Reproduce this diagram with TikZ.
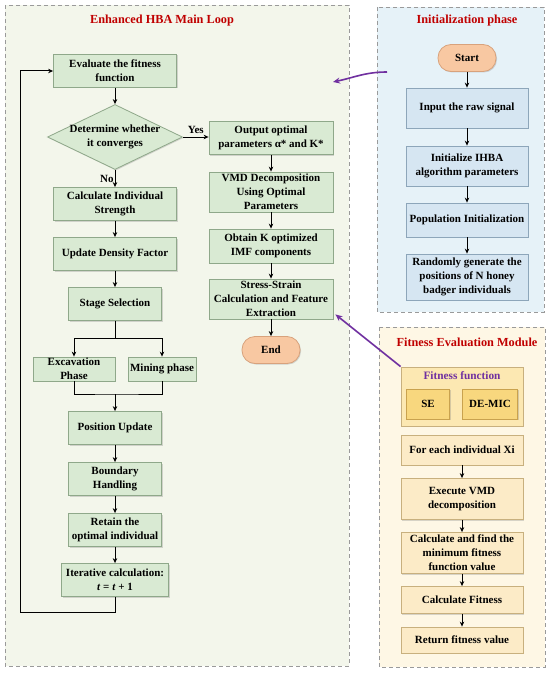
\documentclass[tikz,border=0pt]{standalone}
\usepackage{fontspec}
\setmainfont{Liberation Serif}
\usetikzlibrary{arrows.meta, shapes.geometric, shadows}
\definecolor{cgreenbox}{HTML}{D9EAD3}
\definecolor{cgreenline}{HTML}{8FA88A}
\definecolor{cbluebox}{HTML}{D6E6F2}
\definecolor{cblueline}{HTML}{8DA6BA}
\definecolor{cyelbox}{HTML}{FCEBC7}
\definecolor{cyelline}{HTML}{C8B07E}
\definecolor{cgoldbox}{HTML}{F8D77E}
\definecolor{cgoldline}{HTML}{C9A24E}
\definecolor{cgoldbg}{HTML}{FCE8B2}
\definecolor{corangebox}{HTML}{F8C8A2}
\definecolor{corangeline}{HTML}{D8A27C}
\definecolor{cpanelgreen}{HTML}{F3F6EB}
\definecolor{cpanelblue}{HTML}{E6F2F8}
\definecolor{cpanelyel}{HTML}{FEF7E5}
\definecolor{cdash}{HTML}{9A9A9A}
\definecolor{ctitle}{HTML}{C00000}
\definecolor{cpurple}{HTML}{7030A0}
\tikzset{
  every picture/.style={line width=1pt},
  panel/.style={draw=cdash, fill=#1, dash pattern=on 4pt off 3pt, line width=0.8pt},
  box/.style={draw=#1line, fill=#1box, align=center, inner xsep=1pt, inner ysep=0pt,
    minimum width=123pt, minimum height=33pt, line width=0.8pt,
    drop shadow={shadow xshift=1pt, shadow yshift=-1pt, opacity=0.3}},
  box/.default=cgreen,
  terminal/.style={box=corange, rounded corners=13pt, minimum width=58pt, minimum height=27pt},
  decision/.style={diamond, draw=cgreenline, fill=cgreenbox, minimum width=135pt, minimum height=65pt,
    inner sep=0pt, aspect=2.08, line width=0.8pt,
    drop shadow={shadow xshift=1pt, shadow yshift=-1pt, opacity=0.3}},
  arrow/.style={-{Stealth[length=5pt, width=4.5pt]}, draw=black, line width=1pt},
  link/.style={draw=black, line width=1pt},
  jump/.style={-{Stealth[length=7pt, width=6pt]}, draw=cpurple, line width=1.6pt},
  title/.style={text=ctitle, font=\fontsize{12.3}{14}\selectfont\bfseries},
  subtitle/.style={text=cpurple, font=\fontsize{11.3}{14}\selectfont\bfseries},
}

\begin{document}
\begin{tikzpicture}[x=1pt, y=-1pt, every node/.append style={font=\fontsize{11}{14}\selectfont\bfseries}]
  \useasboundingbox (0,0) rectangle (550,674);
  % panels
  \draw[panel=cpanelgreen] (5,5) rectangle (349,666);
  \draw[panel=cpanelblue] (377,7) rectangle (544,312);
  \draw[panel=cpanelyel] (379,327) rectangle (545,667);
  \node[title] (tmain) at (162,21) {Enhanced HBA Main Loop};
  \node[title] (tinit) at (467,21) {Initialization phase};
  \node[title] (tfit) at (467,342) {Fitness Evaluation Module};

  % main loop
  \node[box] (evalfit) at (115,71) {Evaluate the fitness\\function};
  \node[decision] (conv) at (115,137) {\makebox[0pt]{\begin{tabular}{@{}c@{}}Determine whether\\it converges\end{tabular}}};
  \node[box] (strength) at (115,204) {Calculate Individual\\Strength};
  \node[box] (density) at (115,254) {Update Density Factor};
  \node[box, minimum width=93pt] (stage) at (115,304) {Stage Selection};
  \node[box, minimum width=82pt, minimum height=24pt] (excav) at (74,369) {Excavation\\Phase};
  \node[box, minimum width=68pt, minimum height=24pt] (mining) at (162,369) {Mining phase};
  \node[box, minimum width=93pt] (posupd) at (115,428) {Position Update};
  \node[box, minimum width=93pt] (bound) at (115,479) {Boundary\\Handling};
  \node[box, minimum width=93pt] (retain) at (115,530) {Retain the\\optimal individual};
  \node[box, minimum width=107pt] (iter) at (115,580) {Iterative calculation:\\\textit{t} = \textit{t} + 1};

  \node[box, minimum width=124pt] (output) at (271,138) {Output optimal\\parameters α* and K*};
  \node[box, minimum width=124pt, minimum height=40pt] (vmdopt) at (271,192) {VMD Decomposition\\Using Optimal\\Parameters};
  \node[box, minimum width=124pt, minimum height=34pt] (imf) at (271,246) {Obtain K optimized\\IMF components};
  \node[box, minimum width=124pt, minimum height=40pt] (stress) at (271,299) {Stress-Strain\\Calculation and Feature\\Extraction};
  \node[terminal] (finish) at (271,350) {End};

  \draw[arrow] (evalfit) -- (conv);
  \draw[arrow] (conv.east) -- node[above] {Yes} (output.west |- conv.east);
  \draw[arrow] (conv) -- node[left, inner xsep=1pt] {No} (strength);
  \draw[arrow] (strength) -- (density);
  \draw[arrow] (density) -- (stage);
  \draw[arrow] (stage.south) -- ++(0,18) -| (excav.north);
  \draw[arrow] (stage.south) -- ++(0,18) -| (mining.north);
  \coordinate (merge) at (115,394);
  \draw[link] (excav.south) |- (merge) -| (mining.south);
  \draw[arrow] (merge) -- (posupd);
  \draw[arrow] (posupd) -- (bound);
  \draw[arrow] (bound) -- (retain);
  \draw[arrow] (retain) -- (iter);
  \draw[arrow] (iter.south) -- ++(0,16) -| ([xshift=-33pt]evalfit.west) -- (evalfit.west);
  \draw[arrow] (output) -- (vmdopt);
  \draw[arrow] (vmdopt) -- (imf);
  \draw[arrow] (imf) -- (stress);
  \draw[arrow] (stress) -- (finish);

  % initialization
  \node[terminal] (start) at (467,58) {Start};
  \node[box=cblue, minimum width=122pt, minimum height=40pt] (input) at (467,108) {Input the raw signal};
  \node[box=cblue, minimum width=122pt, minimum height=40pt] (initpar) at (467,166) {Initialize IHBA\\algorithm parameters};
  \node[box=cblue, minimum width=122pt, minimum height=34pt] (popinit) at (467,220) {Population Initialization};
  \node[box=cblue, minimum width=122pt, minimum height=46pt] (randgen) at (467,277) {Randomly generate the\\positions of N honey\\badger individuals};
  \draw[arrow] (start) -- (input);
  \draw[arrow] (input) -- (initpar);
  \draw[arrow] (initpar) -- (popinit);
  \draw[arrow] (popinit) -- (randgen);

  % fitness evaluation
  \node[draw=cyelline, fill=cgoldbg, line width=0.8pt, minimum width=122pt, minimum height=59pt] (fitfun) at (462,396.5) {};
  \node[subtitle] (fftitle) at (462,376) {Fitness function};
  \node[box=cgold, minimum width=43pt, minimum height=30pt] (se) at (428,404) {SE};
  \node[box=cgold, minimum width=55pt, minimum height=30pt] (demic) at (490,404) {DE-MIC};
  \node[box=cyel, minimum width=122pt, minimum height=30pt] (foreach) at (462,450) {For each individual Xi};
  \node[box=cyel, minimum width=122pt, minimum height=41pt] (execvmd) at (462,499) {Execute VMD\\decomposition};
  \node[box=cyel, minimum width=122pt, minimum height=41pt] (findmin) at (462,553) {Calculate and find the\\minimum fitness\\function value};
  \node[box=cyel, minimum width=122pt, minimum height=27pt] (calcfit) at (462,600) {Calculate Fitness};
  \node[box=cyel, minimum width=122pt, minimum height=26pt] (retfit) at (462,640) {Return fitness value};
  \draw[arrow] (foreach) -- (execvmd);
  \draw[arrow] (execvmd) -- (findmin);
  \draw[arrow] (findmin) -- (calcfit);
  \draw[arrow] (calcfit) -- (retfit);

  % links between modules
  \coordinate (frominit) at (387,72);
  \coordinate (tomain) at (333,82);
  \draw[jump] (frominit) to[out=180, in=12] (tomain);
  \draw[jump] (fitfun.north west) -- ([xshift=2pt, yshift=5pt]stress.south east);
\end{tikzpicture}
\end{document}
